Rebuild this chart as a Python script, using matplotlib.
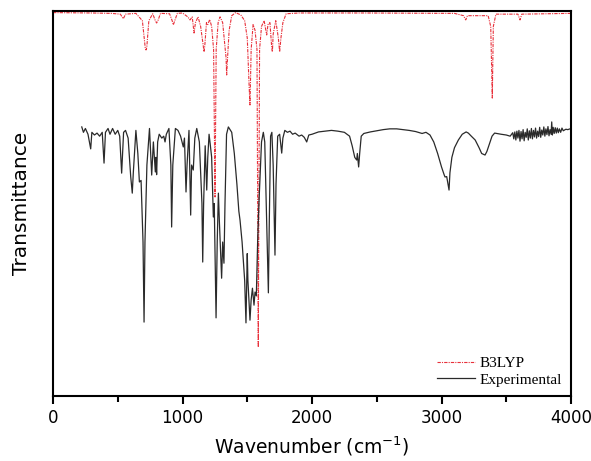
import matplotlib
matplotlib.use("Agg")
import matplotlib.pyplot as plt
from matplotlib.ticker import MultipleLocator

# B3LYP computed spectrum, (wavenumber, transmittance)
calc_pts = [
    (0, 99.6), (300, 99.5), (450, 99.4), (520, 99.2), (543, 98.0), (560, 99.2), (640, 99.4),
    (690, 97.5), (712, 90.5), (718, 89.9), (724, 90.5), (740, 97.5), (770, 99.3), (790, 97.5),
    (800, 96.9), (810, 97.5), (830, 99.4), (900, 99.3), (920, 97.5), (929, 96.4), (940, 97.5),
    (960, 99.4), (1000, 99.5), (1040, 98.5), (1058, 97.7), (1075, 98.5), (1089, 94.3),
    (1100, 97.0), (1120, 98.5), (1140, 96.0), (1160, 91.0), (1166, 89.4), (1172, 91.0),
    (1185, 97.0), (1195, 96.5), (1210, 97.8), (1225, 96.0), (1240, 90.0), (1251, 51.7),
    (1260, 90.0), (1275, 97.0), (1290, 98.5), (1310, 97.0), (1330, 90.0), (1336, 88.0),
    (1341, 83.4), (1348, 88.0), (1360, 95.0), (1380, 98.8), (1410, 99.6), (1450, 99.0),
    (1480, 97.5), (1500, 93.0), (1515, 80.0), (1521, 75.6), (1530, 90.0), (1545, 96.5),
    (1560, 95.0), (1575, 90.0), (1585, 12.7), (1595, 90.0), (1610, 96.0), (1630, 97.5),
    (1650, 93.8), (1660, 96.5), (1675, 97.0), (1689, 90.4), (1694, 89.4), (1700, 94.0),
    (1720, 97.5), (1740, 93.0), (1750, 89.4), (1760, 93.0), (1775, 97.0), (1800, 99.3),
    (1900, 99.5), (2400, 99.5), (3100, 99.4), (3170, 98.8), (3187, 97.7), (3200, 98.8),
    (3360, 98.8), (3380, 96.0), (3392, 77.4), (3400, 96.0), (3420, 99.2), (3590, 99.2),
    (3606, 97.7), (3620, 99.2), (4000, 99.4),
]

# Experimental spectrum, (wavenumber, transmittance)
exp_pts = [
    (222, 69.9), (235, 68.5), (250, 69.5), (270, 68.0), (291, 64.2), (300, 68.5), (320, 67.8),
    (340, 68.3), (360, 67.5), (380, 68.5), (394, 60.5), (405, 68.5), (425, 69.5), (440, 68.0),
    (460, 69.5), (480, 68.0), (500, 69.0), (515, 67.5), (530, 57.9), (545, 68.5), (560, 69.0),
    (580, 67.0), (600, 57.0), (612, 52.7), (620, 58.0), (640, 69.0), (655, 63.0), (667, 55.6),
    (680, 56.0), (695, 40.0), (703, 19.2), (710, 40.0), (725, 60.0), (745, 69.5), (762, 57.4),
    (775, 66.0), (790, 58.2), (795, 62.0), (800, 57.5), (808, 66.0), (820, 68.0), (840, 67.0),
    (855, 67.5), (865, 66.0), (875, 68.0), (895, 69.5), (910, 60.0), (916, 43.9), (925, 60.0),
    (945, 69.5), (965, 69.0), (985, 67.5), (1006, 64.7), (1015, 67.0), (1027, 53.0),
    (1035, 60.0), (1050, 69.0), (1063, 47.0), (1070, 60.0), (1083, 58.7), (1095, 67.0),
    (1110, 69.5), (1130, 66.0), (1150, 50.0), (1156, 34.8), (1163, 50.0), (1175, 65.0),
    (1187, 53.5), (1195, 62.0), (1205, 68.0), (1212, 66.0), (1225, 62.0), (1238, 46.5),
    (1245, 50.0), (1259, 20.3), (1268, 40.0), (1277, 52.7), (1285, 45.0), (1302, 30.6),
    (1310, 40.0), (1320, 34.5), (1328, 50.0), (1340, 68.0), (1354, 69.9), (1365, 69.3),
    (1380, 68.5), (1400, 63.0), (1420, 55.0), (1435, 48.0), (1444, 45.7), (1460, 40.0),
    (1480, 30.0), (1490, 19.0), (1495, 28.0), (1500, 37.0), (1505, 30.0), (1521, 19.7),
    (1530, 25.0), (1540, 28.0), (1552, 23.6), (1560, 27.0), (1570, 26.0), (1580, 40.0),
    (1590, 50.0), (1600, 58.0), (1610, 66.0), (1624, 68.5), (1635, 66.0), (1650, 45.0),
    (1663, 26.8), (1670, 45.0), (1680, 67.5), (1690, 68.5), (1700, 60.0), (1714, 36.6),
    (1722, 55.0), (1735, 67.5), (1750, 68.0), (1766, 63.1), (1775, 67.0), (1790, 69.0),
    (1810, 68.5), (1830, 68.8), (1850, 68.0), (1870, 68.3), (1900, 67.5), (1920, 67.8),
    (1940, 67.2), (1959, 66.0), (1975, 67.8), (2000, 68.0), (2050, 68.6), (2100, 68.8),
    (2150, 69.0), (2200, 68.8), (2250, 68.5), (2290, 67.5), (2310, 65.0), (2330, 62.0),
    (2345, 61.3), (2350, 63.0), (2360, 59.5), (2368, 63.0), (2380, 67.5), (2400, 68.2),
    (2450, 68.6), (2500, 68.9), (2550, 69.2), (2600, 69.4), (2654, 69.4), (2700, 69.2),
    (2750, 69.0), (2800, 68.7), (2850, 68.2), (2880, 68.5), (2911, 67.8), (2940, 66.0),
    (2970, 63.0), (3000, 59.5), (3020, 57.5), (3027, 56.9), (3040, 57.0), (3050, 55.0),
    (3058, 53.5), (3065, 58.0), (3080, 62.0), (3100, 64.5), (3130, 66.5), (3160, 68.0),
    (3190, 68.6), (3207, 68.3), (3230, 67.5), (3260, 66.5), (3290, 64.5), (3310, 63.0),
    (3336, 62.6), (3350, 63.5), (3370, 65.5), (3390, 67.5), (3410, 68.3), (3426, 68.2),
    (3460, 68.0), (3500, 67.8), (3530, 67.5), (3550, 68.4), (3558, 66.8), (3566, 68.6),
    (3574, 66.5), (3582, 68.8), (3590, 67.0), (3598, 69.0), (3606, 66.2), (3614, 68.7),
    (3622, 66.8), (3630, 69.2), (3638, 66.3), (3646, 68.5), (3654, 67.2), (3662, 69.4),
    (3670, 66.5), (3678, 68.9), (3686, 67.0), (3694, 69.5), (3702, 66.8), (3710, 69.0),
    (3718, 67.3), (3726, 69.6), (3734, 67.0), (3742, 68.8), (3750, 67.4), (3758, 69.8),
    (3766, 67.2), (3774, 69.1), (3782, 67.8), (3790, 69.9), (3798, 67.5), (3806, 69.4),
    (3814, 67.9), (3822, 70.0), (3830, 67.6), (3838, 69.2), (3846, 68.0), (3851, 71.2),
    (3856, 67.8), (3862, 69.8), (3870, 68.2), (3878, 69.7), (3886, 68.3), (3894, 69.6),
    (3902, 68.4), (3910, 69.4), (3920, 68.5), (3930, 69.6), (3940, 68.9), (3960, 69.3),
    (3975, 69.2), (3992, 69.4),
]


def plot():
    fig = plt.figure(figsize=(5.91, 4.61), dpi=100)
    ax = fig.add_axes([0.0897, 0.141, 0.8765, 0.835])

    cx, cy = zip(*calc_pts)
    ex, ey = zip(*exp_pts)
    ax.plot(cx, cy, color="#e8303a", lw=0.8, ls=(0, (3, 1, 1, 1)), label="B3LYP")
    ax.plot(ex, ey, color="#2a2a2a", lw=0.9, label="Experimental")

    ax.set_xlim(0, 4000)
    ax.set_ylim(0, 100)
    ax.xaxis.set_major_locator(MultipleLocator(1000))
    ax.xaxis.set_minor_locator(MultipleLocator(500))
    ax.tick_params(axis="x", which="major", direction="out", length=6, width=1.5, labelsize=12)
    ax.tick_params(axis="x", which="minor", direction="out", length=4, width=1.5)
    ax.set_yticks([])
    for sp in ax.spines.values():
        sp.set_linewidth(1.5)

    ax.set_xlabel("Wavenumber (cm$^{-1}$)", fontsize=13.5, labelpad=5)
    ax.set_ylabel("Transmittance", fontsize=14.5, labelpad=16)

    ax.legend(loc="lower right", frameon=False, handlelength=2.5, handletextpad=0.3,
              labelspacing=0.2, borderaxespad=0.2,
              prop={"family": "Liberation Serif", "size": 11})

    fig.savefig("out.png", dpi=100)


if __name__ == "__main__":
    plot()
